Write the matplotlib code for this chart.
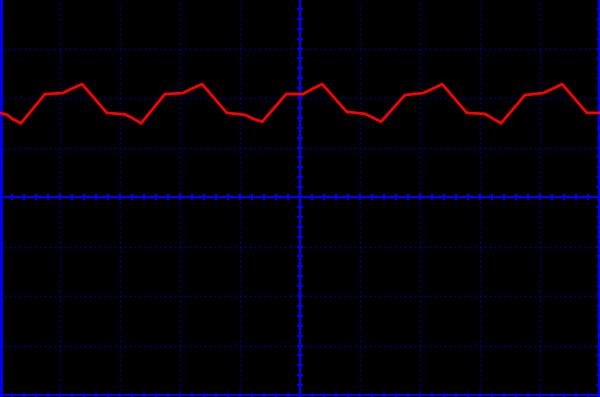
import numpy as np
import matplotlib
matplotlib.use("Agg")
import matplotlib.pyplot as plt

# trace, time and volts in divisions
t_div = [-5.00, -4.88, -4.80, -4.65, -4.25, -3.95, -3.82, -3.63, -3.22, -2.92,
         -2.80, -2.65, -2.25, -1.95, -1.82, -1.63, -1.22, -0.92, -0.78, -0.63,
         -0.23, 0.05, 0.20, 0.37, 0.78, 1.08, 1.22, 1.35, 1.75, 2.05,
         2.20, 2.37, 2.78, 3.08, 3.22, 3.35, 3.75, 4.05, 4.20, 4.37,
         4.78, 5.00]
v_div = [1.70, 1.66, 1.58, 1.49, 2.08, 2.10, 2.18, 2.28, 1.70, 1.67,
         1.60, 1.49, 2.08, 2.10, 2.18, 2.28, 1.70, 1.66, 1.58, 1.52,
         2.08, 2.08, 2.18, 2.28, 1.72, 1.68, 1.60, 1.52, 2.06, 2.10,
         2.18, 2.28, 1.70, 1.68, 1.58, 1.49, 2.06, 2.10, 2.18, 2.28,
         1.70, 1.70]

grid_x = [-4, -3, -2, -1, 1, 2, 3, 4]
grid_y = [-3, -2, -1, 1, 2, 3]

BLUE = "#0000ff"
DOT = "#0000b0"

fig = plt.figure(figsize=(6.0, 3.97), dpi=100, facecolor="black")
ax = fig.add_axes([0, 0, 1, 1], facecolor="black")
ax.set_xlim(-5, 5)
ax.set_ylim(-4.04, 3.98)
ax.axis("off")

# dotted graticule
for gx in grid_x:
    ys = np.arange(-4, 4.01, 0.1)
    ax.plot([gx] * len(ys), ys, ls="none", marker="s", ms=1.1, mew=0, color=DOT)
for gy in grid_y:
    xs = np.arange(-5, 5.01, 1 / 12)
    ax.plot(xs, [gy] * len(xs), ls="none", marker="s", ms=1.1, mew=0, color=DOT)

# centre axes with ticks
ax.axhline(0, color=BLUE, lw=1.6)
ax.axvline(0, color=BLUE, lw=1.6)
minor_x = np.arange(-5, 5.01, 0.2)
minor_y = np.arange(-4, 4.01, 0.2)
ax.vlines(minor_x, -0.06, 0.06, color=BLUE, lw=1.4)
ax.hlines(minor_y, -0.05, 0.05, color=BLUE, lw=1.4)

# border lines and their ticks
ax.axvline(-4.99, color=BLUE, lw=2.0)
ax.axvline(4.975, color=BLUE, lw=1.4)
ax.axhline(-4.0, color=BLUE, lw=1.4)
ax.hlines(minor_y, -5, -4.96, color=BLUE, lw=1.1)
ax.hlines(minor_y, 4.94, 5, color=BLUE, lw=1.1)
ax.vlines(minor_x, -4.04, -3.95, color=BLUE, lw=1.1)

# signal
ax.plot(t_div, v_div, color="#ff0000", lw=2.0, solid_joinstyle="miter")

fig.savefig("out.png", dpi=100, facecolor="black")
